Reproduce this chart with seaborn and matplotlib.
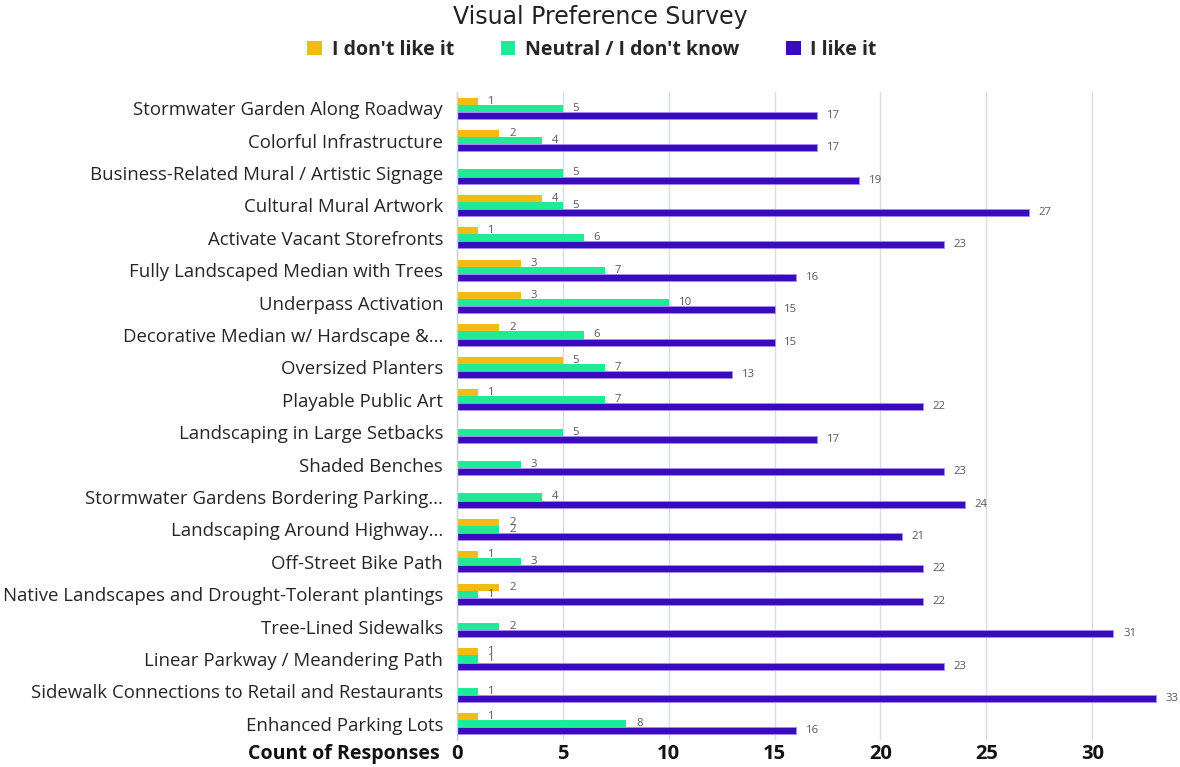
import numpy as np
import pandas as pd
import matplotlib
matplotlib.use("Agg")
import matplotlib.pyplot as plt
import seaborn as sns
from matplotlib.patches import Patch

categories = [
    "Stormwater Garden Along Roadway",
    "Colorful Infrastructure",
    "Business-Related Mural / Artistic Signage",
    "Cultural Mural Artwork",
    "Activate Vacant Storefronts",
    "Fully Landscaped Median with Trees",
    "Underpass Activation",
    "Decorative Median w/ Hardscape &...",
    "Oversized Planters",
    "Playable Public Art",
    "Landscaping in Large Setbacks",
    "Shaded Benches",
    "Stormwater Gardens Bordering Parking...",
    "Landscaping Around Highway...",
    "Off-Street Bike Path",
    "Native Landscapes and Drought-Tolerant plantings",
    "Tree-Lined Sidewalks",
    "Linear Parkway / Meandering Path",
    "Sidewalk Connections to Retail and Restaurants",
    "Enhanced Parking Lots",
]
nan = np.nan
dont_like = [1, 2, nan, 4, 1, 3, 3, 2, 5, 1, nan, nan, nan, 2, 1, 2, nan, 1, nan, 1]
neutral = [5, 4, 5, 5, 6, 7, 10, 6, 7, 7, 5, 3, 4, 2, 3, 1, 2, 1, 1, 8]
like_it = [17, 17, 19, 27, 23, 16, 15, 15, 13, 22, 17, 23, 24, 21, 22, 22, 31, 23, 33, 16]
series_names = ["I don't like it", "Neutral / I don't know", "I like it"]
xticks = [0, 5, 10, 15, 20, 25, 30]

colors = ["#F2BC13", "#1FEA95", "#3A0BBE"]

df = pd.DataFrame({
    "item": categories * 3,
    "count": dont_like + neutral + like_it,
    "response": [series_names[0]] * 20 + [series_names[1]] * 20 + [series_names[2]] * 20,
})

sns.set_theme(style="white")
plt.rcParams["font.family"] = ["Open Sans", "DejaVu Sans"]

fig = plt.figure(figsize=(11.8, 7.67), dpi=100)
ax = fig.add_axes([457 / 1180, 1 - 740 / 767, (1160 - 457) / 1180, (740 - 92) / 767])

sns.barplot(data=df, y="item", x="count", hue="response", hue_order=series_names,
            palette=colors, orient="h", width=0.66, order=categories, ax=ax,
            legend=False, saturation=1, dodge=True, errorbar=None)

for i, cont in enumerate(ax.containers):
    for p in cont:
        p.set_linewidth(0)
        if i == 2:
            p.set_edgecolor("#A58CF0")
            p.set_linewidth(0.6)
    labels = [("" if np.isnan(v) else f"{int(v)}") for v in cont.datavalues]
    ax.bar_label(cont, labels=labels, padding=7, fontsize=8.2, color="#595959")

ax.set_xlim(0, 33.2)
ax.set_ylim(19.5, -0.5)
ax.set_xticks(xticks)
ax.set_xticklabels([str(t) for t in xticks], fontsize=14.5, fontweight="bold", color="#111111")
ax.tick_params(axis="y", labelsize=13.4, labelcolor="#262626", length=0, pad=10)
ax.tick_params(axis="x", length=0, pad=3)
ax.set_xlabel("")
ax.set_ylabel("")
ax.grid(axis="x", color="#D5DEE8", linewidth=1)
ax.set_axisbelow(True)
for s in ["top", "right", "bottom"]:
    ax.spines[s].set_visible(False)
ax.spines["left"].set_color("#C8D0DA")
ax.spines["left"].set_linewidth(1)

fig.text(440 / 1180, 1 - 754 / 767, "Count of Responses", ha="right", va="center",
         fontsize=14.1, fontweight="bold", color="#111111")

fig.text(600 / 1180, 1 - 17 / 767, "Visual Preference Survey", ha="center", va="center",
         fontsize=17, color="#222222", family=["DejaVu Sans"])

handles = [Patch(facecolor=c, edgecolor="none") for c in colors]
fig.legend(handles, series_names, loc="center", bbox_to_anchor=(592 / 1180, 1 - 50 / 767),
           ncol=3, frameon=False, prop={"size": 14, "weight": "bold"},
           handlelength=0.75, handleheight=0.75, handletextpad=0.5, columnspacing=2.4)

fig.savefig("out.png", dpi=100)
